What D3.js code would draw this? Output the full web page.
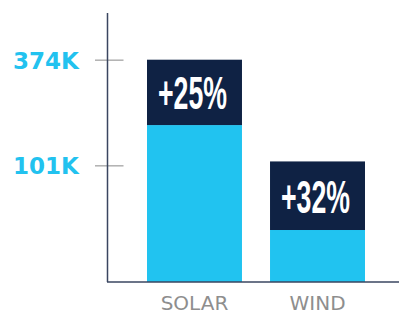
<!DOCTYPE html>
<html>
<head>
<meta charset="utf-8">
<script src="https://cdn.jsdelivr.net/npm/d3@7"></script>
<style>
  body { margin: 0; background: #fff; }
  svg { display: block; }
</style>
</head>
<body>
<script>
// chart data
const categories = ["SOLAR", "WIND"];
const baseValues = [205, 45];     // light part (thousands)
const totalValues = [374, 111];   // full bar height (thousands)
const growthLabels = ["+25%", "+32%"];
const tickValues = [101, 374];
const tickLabels = ["101K", "374K"];

const width = 399;
const height = 310;

const svg = d3.select("body")
    .append("svg")
    .attr("width", width)
    .attr("height", height);

const xScale = d3.scaleBand()
    .domain(categories)
    .range([147, 365])
    .paddingInner(0.228)
    .paddingOuter(0);

// the original axis is not linear, so the scale is piecewise
const yScale = d3.scaleLinear()
    .domain([0, 101, 374])
    .range([282, 165.3, 59.7]);

// light part of each bar
svg.selectAll("rect.base")
    .data(categories)
    .enter()
    .append("rect")
    .attr("class", "base")
    .attr("x", d => xScale(d))
    .attr("y", (d, i) => yScale(baseValues[i]))
    .attr("width", xScale.bandwidth())
    .attr("height", (d, i) => yScale(0) - yScale(baseValues[i]))
    .attr("fill", "#21c3f0");

// dark growth part
svg.selectAll("rect.growth")
    .data(categories)
    .enter()
    .append("rect")
    .attr("class", "growth")
    .attr("x", d => xScale(d))
    .attr("y", (d, i) => yScale(totalValues[i]))
    .attr("width", xScale.bandwidth())
    .attr("height", (d, i) => yScale(baseValues[i]) - yScale(totalValues[i]))
    .attr("fill", "#0f2244");

svg.selectAll("text.growth")
    .data(categories)
    .enter()
    .append("text")
    .attr("class", "growth")
    .attr("x", d => xScale(d) + xScale.bandwidth() / 2 - 2)
    .attr("y", (d, i) => (yScale(totalValues[i]) + yScale(baseValues[i])) / 2 + 17)
    .attr("text-anchor", "middle")
    .attr("font-family", "Liberation Sans, Arial, sans-serif")
    .attr("font-weight", "bold")
    .attr("font-size", 46)
    .attr("textLength", 69)
    .attr("lengthAdjust", "spacingAndGlyphs")
    .attr("fill", "#fff")
    .text((d, i) => growthLabels[i]);

// y axis
const yAxis = d3.axisLeft(yScale)
    .tickValues(tickValues)
    .tickSizeInner(-16)
    .tickSizeOuter(0)
    .tickFormat("");

const yAxisG = svg.append("g")
    .attr("transform", "translate(107.5,0)")
    .call(yAxis);
yAxisG.select(".domain").remove();
yAxisG.selectAll(".tick line")
    .attr("x1", -12.5)
    .attr("stroke", "#b0b0b0")
    .attr("stroke-width", 1.5);

svg.append("line")
    .attr("x1", 107.5).attr("x2", 107.5)
    .attr("y1", 13).attr("y2", yScale(0))
    .attr("stroke", "#3a4660")
    .attr("stroke-width", 1.5);

svg.selectAll("text.ylabel")
    .data(tickValues)
    .enter()
    .append("text")
    .attr("class", "ylabel")
    .attr("x", 46)
    .attr("y", d => yScale(d) + 9)
    .attr("text-anchor", "middle")
    .attr("font-family", "DejaVu Sans, sans-serif")
    .attr("font-weight", "bold")
    .attr("font-size", 23)
    .attr("fill", "#22c2ef")
    .text((d, i) => tickLabels[i]);

// x axis
const xAxis = d3.axisBottom(xScale).tickSize(0).tickPadding(0);
const xAxisG = svg.append("g")
    .attr("transform", "translate(0," + yScale(0) + ")")
    .call(xAxis);
xAxisG.select(".domain").remove();
xAxisG.selectAll(".tick text")
    .attr("y", 27.5)
    .attr("dy", null)
    .attr("font-family", "DejaVu Sans, sans-serif")
    .attr("font-size", 20)
    .attr("fill", "#8e8e8e");

svg.append("line")
    .attr("x1", 107).attr("x2", width)
    .attr("y1", yScale(0)).attr("y2", yScale(0))
    .attr("stroke", "#3a4660")
    .attr("stroke-width", 1.5);
</script>
</body>
</html>
